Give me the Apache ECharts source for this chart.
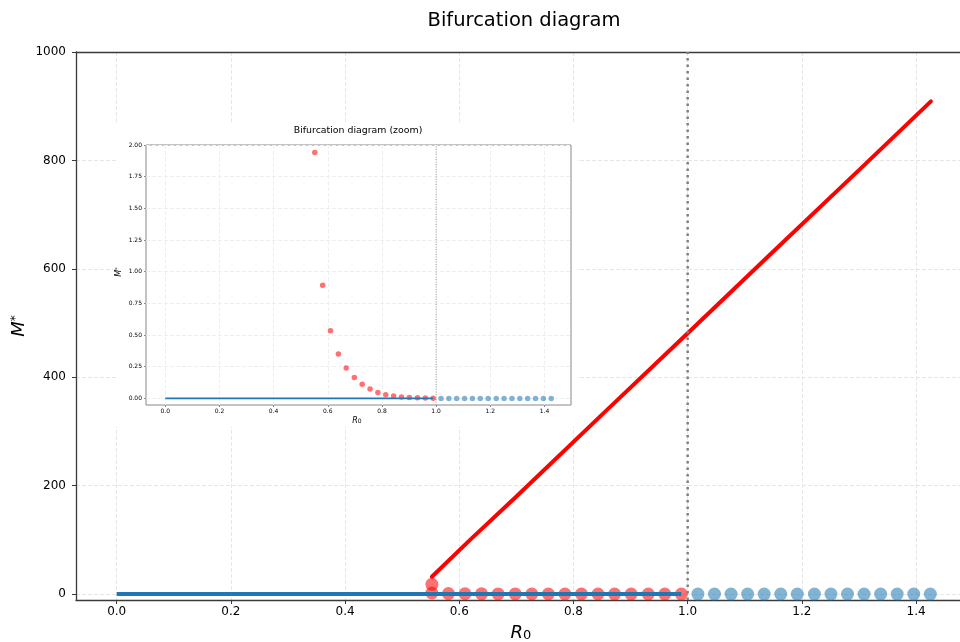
<!DOCTYPE html>
<html>
<head>
<meta charset="utf-8">
<script src="https://cdn.jsdelivr.net/npm/echarts@6/dist/echarts.min.js"></script>
<style>html,body{margin:0;padding:0;background:#fff}#c{width:960px;height:642px}</style>
</head>
<body>
<div id="c"></div>
<script>
// ---- data ----
const R0_red = [0.552, 0.581, 0.610, 0.639, 0.668, 0.698, 0.727, 0.756, 0.785, 0.814, 0.843, 0.872, 0.901, 0.931, 0.960, 0.989];
const M_red = [1.94, 0.894, 0.534, 0.350, 0.240, 0.166, 0.111, 0.074, 0.047, 0.029, 0.019, 0.011, 0.008, 0.005, 0.003, 0.001];
const R0_blue = [1.018, 1.047, 1.076, 1.105, 1.134, 1.163, 1.192, 1.222, 1.251, 1.280, 1.309, 1.338, 1.367, 1.396, 1.425];
const M_blue = [0, 0, 0, 0, 0, 0, 0, 0, 0, 0, 0, 0, 0, 0, 0];
const R0_peak = [0.552];
const M_peak = [18];
const R0_upper = [0.552, 0.618, 0.700, 0.850, 1.000, 1.150, 1.300, 1.426];
const M_upper = [32, 99, 180, 331, 481, 632, 782, 909];
const R0_stable = [0, 0.989];
const M_stable = [0, 0];
const R0_threshold = 1.0;
const xTicks = [0, 0.2, 0.4, 0.6, 0.8, 1.0, 1.2, 1.4];
const yTicks = [0, 200, 400, 600, 800, 1000];
const insetYTicks = [0, 0.25, 0.5, 0.75, 1.0, 1.25, 1.5, 1.75, 2.0];

const pairs = (xs, ys) => xs.map((x, i) => [x, ys[i]]);
const FONT = 'DejaVu Sans';
const RED_A = 'rgba(255,0,0,0.7)';
const BLUE_A = 'rgba(31,119,180,0.7)';
const BLUE = '#1f77b4';
const SPINE = '#3a3a3a';

const chart = echarts.init(document.getElementById('c'), null, {renderer: 'canvas'});

function axisCommon(ticks, fmt, fs, tickLen, margin, tickColor, gridColor, z, showLine) {
  return {
    type: 'value', z: z,
    axisLine: {show: showLine, onZero: false, lineStyle: {color: tickColor, width: 1.3}},
    axisTick: {show: true, customValues: ticks, length: tickLen, lineStyle: {color: tickColor, width: 1}},
    axisLabel: {customValues: ticks, formatter: fmt, fontSize: fs, color: '#000', fontFamily: FONT, margin: margin},
    splitLine: {show: true, lineStyle: {color: gridColor, width: 1, type: [4, 2]}}
  };
}

const option = {
  backgroundColor: '#fff',
  animation: false,
  grid: [
    {left: 76, top: 52, width: 884, height: 548, show: false, z: 0},
    {left: 146, top: 145, width: 425, height: 260, show: true, borderColor: '#888', borderWidth: 1, backgroundColor: '#fff', z: 5}
  ],
  xAxis: [
    Object.assign(axisCommon(xTicks, v => v.toFixed(1), 12, 4, 6, SPINE, '#e6e6e6', 0, true), {gridIndex: 0, position: 'bottom', min: -0.0713, max: 1.477}),
    Object.assign(axisCommon(xTicks, v => v.toFixed(1), 6, 2, 3, '#888', '#efefef', 6, false), {gridIndex: 1, min: -0.0713, max: 1.498}),
    {type: 'value', gridIndex: 0, position: 'top', min: -0.0713, max: 1.477, z: 0,
     axisLine: {show: true, onZero: false, lineStyle: {color: SPINE, width: 1.3}},
     axisTick: {show: false}, axisLabel: {show: false}, splitLine: {show: false}}
  ],
  yAxis: [
    Object.assign(axisCommon(yTicks, v => String(v), 12, 4, 10, SPINE, '#e6e6e6', 0, true), {gridIndex: 0, min: -11, max: 1000}),
    Object.assign(axisCommon(insetYTicks, v => v.toFixed(2), 6, 2, 4, '#888', '#efefef', 6, false), {gridIndex: 1, min: -0.052, max: 2.0})
  ],
  series: [
    // main
    {type: 'scatter', xAxisIndex: 0, yAxisIndex: 0, z: 2, symbolSize: 13, itemStyle: {color: RED_A}, data: pairs(R0_red, M_red)},
    {type: 'scatter', xAxisIndex: 0, yAxisIndex: 0, z: 2, symbolSize: 13, itemStyle: {color: RED_A}, data: pairs(R0_peak, M_peak)},
    {type: 'scatter', xAxisIndex: 0, yAxisIndex: 0, z: 2, symbolSize: 13, itemStyle: {color: BLUE_A}, data: pairs(R0_blue, M_blue)},
    {type: 'line', xAxisIndex: 0, yAxisIndex: 0, z: 3, showSymbol: false, symbol: 'none', lineStyle: {color: BLUE, width: 4}, data: pairs(R0_stable, M_stable)},
    {type: 'line', xAxisIndex: 0, yAxisIndex: 0, z: 3, showSymbol: false, symbol: 'none', lineStyle: {color: '#ff0000', width: 4, cap: 'round'}, data: pairs(R0_upper, M_upper)},
    {type: 'line', xAxisIndex: 0, yAxisIndex: 0, z: 4, showSymbol: false, symbol: 'none', lineStyle: {color: '#808080', width: 2.5, type: [2.5, 4]}, data: [[R0_threshold, -11], [R0_threshold, 1000]]},
    // inset
    {type: 'scatter', xAxisIndex: 1, yAxisIndex: 1, z: 7, symbolSize: 5.5, itemStyle: {color: RED_A}, data: pairs(R0_red, M_red)},
    {type: 'scatter', xAxisIndex: 1, yAxisIndex: 1, z: 7, symbolSize: 5.5, itemStyle: {color: BLUE_A}, data: pairs(R0_blue, M_blue)},
    {type: 'line', xAxisIndex: 1, yAxisIndex: 1, z: 8, showSymbol: false, symbol: 'none', lineStyle: {color: BLUE, width: 1.8}, data: pairs(R0_stable, M_stable)},
    {type: 'line', xAxisIndex: 1, yAxisIndex: 1, z: 8, showSymbol: false, symbol: 'none', lineStyle: {color: '#999', width: 1, type: [1, 1.5]}, data: [[R0_threshold, -0.052], [R0_threshold, 2.0]]}
  ],
  graphic: {elements: [
    {type: 'rect', z: 4, silent: true, shape: {x: 116, y: 122, width: 461, height: 305}, style: {fill: '#fff'}},
    {type: 'text', z: 10, x: 524, y: 21, style: {text: 'Bifurcation diagram', fontFamily: FONT, fontSize: 19.5, fill: '#000', align: 'center', verticalAlign: 'middle'}},
    {type: 'text', z: 10, x: 358, y: 131, style: {text: 'Bifurcation diagram (zoom)', fontFamily: FONT, fontSize: 9.4, fill: '#000', align: 'center', verticalAlign: 'middle'}},
    {type: 'text', z: 10, x: 521, y: 632, style: {text: '{r|R}{s|0}', fontFamily: FONT, align: 'center', verticalAlign: 'middle',
      rich: {r: {fontFamily: FONT, fontStyle: 'italic', fontSize: 18, fill: '#000', verticalAlign: 'bottom', lineHeight: 20}, s: {fontFamily: FONT, fontSize: 13, fill: '#000', verticalAlign: 'bottom', lineHeight: 16}}}},
    {type: 'text', z: 10, x: 21, y: 326, rotation: Math.PI / 2, style: {text: '{m|M}{s|*}', fontFamily: FONT, align: 'center', verticalAlign: 'middle',
      rich: {m: {fontFamily: FONT, fontStyle: 'italic', fontSize: 18, fill: '#000', verticalAlign: 'top', lineHeight: 22}, s: {fontFamily: FONT, fontSize: 12, fill: '#000', verticalAlign: 'top', lineHeight: 12}}}},
    {type: 'text', z: 10, x: 357, y: 420, style: {text: '{r|R}{s|0}', fontFamily: FONT, align: 'center', verticalAlign: 'middle',
      rich: {r: {fontFamily: FONT, fontStyle: 'italic', fontSize: 8, fill: '#000', verticalAlign: 'bottom', lineHeight: 9}, s: {fontFamily: FONT, fontSize: 6, fill: '#000', verticalAlign: 'bottom', lineHeight: 7}}}},
    {type: 'text', z: 10, x: 120, y: 272, rotation: Math.PI / 2, style: {text: '{m|M}{s|*}', fontFamily: FONT, align: 'center', verticalAlign: 'middle',
      rich: {m: {fontFamily: FONT, fontStyle: 'italic', fontSize: 8, fill: '#000', verticalAlign: 'top', lineHeight: 10}, s: {fontFamily: FONT, fontSize: 5.5, fill: '#000', verticalAlign: 'top', lineHeight: 6}}}}
  ]}
};
chart.setOption(option);
</script>
</body>
</html>
